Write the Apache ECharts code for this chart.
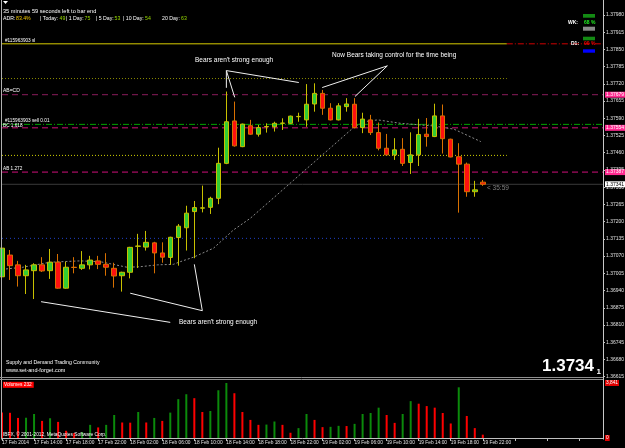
<!DOCTYPE html>
<html><head><meta charset="utf-8">
<script src="https://cdn.jsdelivr.net/npm/echarts@6/dist/echarts.min.js"></script>
<style>html,body{margin:0;padding:0;background:#000;}#c{width:625px;height:448px;}</style>
</head><body><div id="c"></div>
<script>
// ---- Data (H1 bars, 17 Feb 10:00 .. 19 Feb 22:00) ----
const tickLabels = ['17 Feb 2014','17 Feb 14:00','17 Feb 18:00','17 Feb 22:00','18 Feb 02:00','18 Feb 06:00','18 Feb 10:00','18 Feb 14:00','18 Feb 18:00','18 Feb 22:00','19 Feb 02:00','19 Feb 06:00','19 Feb 10:00','19 Feb 14:00','19 Feb 18:00','19 Feb 22:00'];
const opens  = [1.36992,1.37074,1.37037,1.36996,1.37015,1.37037,1.37015,1.37047,1.36949,1.37028,1.37024,1.37037,1.37052,1.37039,1.37024,1.36996,1.37009,1.37107,1.37104,1.37120,1.37082,1.37065,1.37140,1.37177,1.37238,1.37251,1.37254,1.37288,1.37420,1.37580,1.37483,1.37562,1.37530,1.37558,1.37558,1.37571,1.37571,1.37596,1.37584,1.37644,1.37684,1.37628,1.37584,1.37634,1.37643,1.37555,1.37584,1.37536,1.37477,1.37452,1.37473,1.37423,1.37452,1.37530,1.37521,1.37599,1.37511,1.37445,1.37417,1.37313,1.37349];
const highs  = [1.37112,1.37093,1.37052,1.37037,1.37043,1.37066,1.37097,1.37078,1.37049,1.37066,1.37089,1.37071,1.37071,1.37081,1.37045,1.37011,1.37105,1.37154,1.37165,1.37124,1.37122,1.37143,1.37191,1.37260,1.37278,1.37336,1.37294,1.37479,1.37691,1.37653,1.37570,1.37584,1.37565,1.37571,1.37577,1.37590,1.37600,1.37611,1.37719,1.37722,1.37697,1.37647,1.37647,1.37666,1.37666,1.37611,1.37603,1.37574,1.37531,1.37515,1.37515,1.37537,1.37588,1.37591,1.37645,1.37642,1.37513,1.37496,1.37423,1.37354,1.37357];
const lows   = [1.36954,1.36980,1.36955,1.36927,1.36908,1.37010,1.36984,1.36947,1.36947,1.37005,1.37018,1.37020,1.37021,1.36996,1.36951,1.36936,1.36986,1.37025,1.37091,1.37005,1.37045,1.37037,1.37034,1.37091,1.37062,1.37235,1.37229,1.37266,1.37417,1.37483,1.37481,1.37528,1.37521,1.37536,1.37540,1.37546,1.37569,1.37577,1.37558,1.37615,1.37603,1.37582,1.37582,1.37615,1.37552,1.37534,1.37527,1.37469,1.37450,1.37433,1.37410,1.37380,1.37410,1.37483,1.37519,1.37457,1.37443,1.37234,1.37294,1.37294,1.37335];
const closes = [1.37100,1.37034,1.36996,1.37018,1.37037,1.37014,1.37047,1.36949,1.37028,1.37027,1.37037,1.37055,1.37039,1.37028,1.36995,1.37009,1.37103,1.37108,1.37122,1.37082,1.37066,1.37141,1.37183,1.37232,1.37253,1.37252,1.37288,1.37420,1.37577,1.37486,1.37568,1.37530,1.37555,1.37559,1.37571,1.37572,1.37598,1.37597,1.37643,1.37684,1.37628,1.37584,1.37637,1.37644,1.37555,1.37587,1.37536,1.37477,1.37452,1.37471,1.37420,1.37452,1.37529,1.37521,1.37599,1.37513,1.37444,1.37417,1.37313,1.37320,1.37341];
const volumes = [1773,1760,1401,1415,1677,1194,1380,1125,504,345,420,918,738,918,1608,1083,1070,1815,1083,1401,1194,1773,2712,3057,2781,1815,1884,3333,3841,3126,1815,1263,918,938,1152,918,366,690,1677,1263,759,780,849,835,987,1677,1746,2118,1608,1056,1677,2574,2394,2229,2118,1746,1014,3540,1539,690,232];
// gray dotted average line, read points [bar index, price]
const avgLine = [[0,1.37020],[2.6,1.37028],[6,1.37047],[9.75,1.37052],[12.25,1.37049],[15.6,1.37028],[17.25,1.37030],[19.4,1.37037],[21.4,1.37039],[22.25,1.37049],[23.9,1.37066],[26.4,1.37100],[28.9,1.37169],[31,1.37213],[43.9,1.37556],[45.1,1.37577],[46.9,1.37584],[49.75,1.37571],[53.9,1.37561],[56.4,1.37549],[59.75,1.37502]];
// horizontal levels
const slPrice = 1.37871, olivePrice = 1.37740, abcdPrice = 1.37679, sellPrice = 1.37567,
      bcPrice = 1.37554, yellowDotPrice = 1.37450, abPrice = 1.37387, blueDotPrice = 1.37137;
// hand-drawn trend lines [bar index, price] segments
const trendSegs = [
  [[28.0,1.37770],[37.04,1.37725]], [[28.0,1.37770],[29.04,1.37669]], [[28.0,1.37770],[28.0,1.37705]],
  [[48.09,1.37788],[39.96,1.37706]], [[48.09,1.37788],[44.04,1.37672]],
  [[25.0,1.36864],[24.0,1.37039]], [[25.0,1.36864],[16.0,1.36930]],
  [[4.875,1.36898],[21.0,1.36820]]
];
const base = 1.36615, step = 0.00065, topPrice = 1.38025;

// ---- build ----
const nSlots = 76;
const cats = Array.from({length:nSlots}, (_,i)=>String(i));
const FF = '"Liberation Sans", Arial, sans-serif';
const candleData = opens.map((o,i)=>[o, closes[i], lows[i], highs[i]]);
const volMax = Math.max(...volumes);
const volData = volumes.map((v,i)=>({value:v, itemStyle:{color: (i>0 && v>volumes[i-1]) ? '#0b8a0b' : '#ff0000'}}));
const lastClose = closes[closes.length-1];

function hLine(price, x0, x1, color, type, lbl) {
  const s = {type:'line', xAxisIndex:2, yAxisIndex:0, data:[[x0,price],[x1,price]], symbol:'none', silent:true, z:1,
    lineStyle:{color:color, width:1, type:type}};
  if (lbl) s.endLabel = Object.assign({show:true, formatter:()=>price.toFixed(5), fontSize:5, fontFamily:FF, distance:2, padding:[1,1,0,1]}, lbl);
  return s;
}
const trendData = [];
trendSegs.forEach((sg,k)=>{ if(k) trendData.push('-'); trendData.push(sg[0], sg[1]); });

function txt(x,y,text,fill,size,extra){ return {type:'text', silent:true, z:100, style:Object.assign({x:x,y:y,text:text,fill:fill,fontSize:size,fontFamily:FF,verticalAlign:'middle',align:'left'}, extra||{})}; }
function ln(x1,y1,x2,y2,c){ return {type:'line', silent:true, z:100, shape:{x1:x1,y1:y1,x2:x2,y2:y2}, style:{stroke:c,lineWidth:1}}; }
function rc(x,y,w,h,c){ return {type:'rect', silent:true, z:100, shape:{x:x,y:y,width:w,height:h}, style:{fill:c}}; }

const green = '#99dd00';
const graphics = [
  {type:'polygon', silent:true, shape:{points:[[3,1],[8,1],[5.5,4]]}, style:{fill:'#fff'}},
  txt(3,11,'35 minutes 59 seconds left to bar end','#fff',5.6),
  txt(3,19,'ADR:','#fff',5.2), txt(16,19,'83.4%','#f0c800',5.2),
  txt(40,19,'| Today:','#fff',5.2), txt(59.5,19,'49',green,5.2),
  txt(66,19,'| 1 Day:','#fff',5.2), txt(84.5,19,'75',green,5.2),
  txt(96,19,'| 5 Day:','#fff',5.2), txt(114.5,19,'53',green,5.2),
  txt(123,19,'| 10 Day:','#fff',5.2), txt(145,19,'54',green,5.2),
  txt(162,19,'20 Day:','#fff',5.2), txt(181,19,'63',green,5.2),
  txt(5,40.5,'#115963903 sl','#fff',4.7),
  txt(3,91,'AB=CD','#fff',5),
  txt(5,120.5,'#115963903 sell 0.01','#fff',4.7),
  txt(3,125.5,'BC 1.618','#fff',4.7),
  txt(3,168.5,'AB 1.272','#fff',4.7),
  txt(487,188,'< 35:59','#808080',6.5),
  txt(195,60,"Bears aren't strong enough",'#fff',6.5),
  txt(332,55,'Now Bears taking control for the time being','#fff',6.5),
  txt(179,322.5,"Bears aren't strong enough",'#fff',6.5),
  txt(6,362.5,'Supply and Demand Trading Community','#fff',5.2),
  txt(6,370.5,'www.set-and-forget.com','#fff',5.5),
  txt(542,366.5,lastClose.toFixed(5).slice(0,6),'#fff',17,{fontWeight:'bold'}),
  txt(596.5,372,lastClose.toFixed(5).slice(6),'#fff',8,{fontWeight:'bold'}),
  txt(3,384.8,'Volumes '+volumes[volumes.length-1],'#fff',4.8,{backgroundColor:'#ff0000',padding:[1,2,0,1]}),
  txt(3,435,'IBFX, \u00a9 2001-2012, MetaQuotes Software Corp.','#fff',4.8),
  rc(583,14,12,3.7,'#138a13'), txt(568,22.5,'WK:','#fff',5,{fontWeight:'bold'}), txt(584,22.5,'68 %','#22ee22',5,{fontWeight:'bold'}),
  rc(583,26.7,12,4,'#8a8a8a'),
  rc(583,36.7,12,3.6,'#138a13'), txt(571,44,'D1:','#fff',5,{fontWeight:'bold'}), txt(584,44,'00 %','#ee0000',5,{fontWeight:'bold'}),
  rc(583,49.3,12,3.4,'#0000ff'),
  ln(1.5,0,1.5,439.5,'#b0b0b0'),
  ln(603.5,0,603.5,439.5,'#c8c8c8'),
  ln(0,377.5,603,377.5,'#909090'),
  ln(0,379.5,603,379.5,'#909090')
];

const chart = echarts.init(document.getElementById('c'), null, {renderer:'canvas'});
chart.setOption({
  backgroundColor:'#000',
  animation:false,
  grid:[
    {left:2, top:3, width:601, height:373.7, outerBoundsMode:'none', containLabel:false},
    {left:2, top:383, width:601, height:55, outerBoundsMode:'none', containLabel:false}
  ],
  xAxis:[
    {type:'category', gridIndex:0, data:cats, boundaryGap:false, show:false},
    {type:'category', gridIndex:1, data:cats, boundaryGap:false,
      axisLine:{show:true, lineStyle:{color:'#c0c0c0'}},
      axisTick:{show:true, interval:3, length:3, lineStyle:{color:'#c0c0c0'}},
      axisLabel:{interval:3, formatter:(v,idx)=>tickLabels[idx/4]||'', color:'#e0e0e0', fontSize:4.8, fontFamily:FF, align:'left', margin:2},
      splitLine:{show:false}},
    {type:'value', gridIndex:0, min:0, max:nSlots-1, show:false}
  ],
  yAxis:[
    {type:'value', gridIndex:0, min:base, max:topPrice, show:false, scale:true},
    {type:'value', gridIndex:0, position:'right', min:0, max:+(topPrice-base).toFixed(5), interval:step,
      axisLine:{show:false}, axisTick:{show:true, length:2, lineStyle:{color:'#c0c0c0'}},
      axisLabel:{formatter:v=>(v+base).toFixed(5), color:'#e0e0e0', fontSize:5, fontFamily:FF, margin:3, showMaxLabel:false},
      splitLine:{show:false}},
    {type:'value', gridIndex:1, position:'right', min:0, max:volMax, interval:volMax,
      axisLine:{show:false}, axisTick:{show:false}, splitLine:{show:false},
      axisLabel:{color:'#fff', backgroundColor:'#e00000', fontSize:4.8, fontFamily:FF, margin:2, padding:[1,1,0,1]}}
  ],
  series:[
    hLine(slPrice, 0, 63, '#d8cc00', 'solid'),
    hLine(slPrice, 63, 75, '#d00000', [6,2,1,2]),
    hLine(olivePrice, 0, 63, '#8a8a00', [1,2]),
    hLine(abcdPrice, 0, 75, '#8a1c5c', [6,4], {backgroundColor:'#ff2a90', color:'#fff'}),
    hLine(sellPrice, 0, 75, '#00a000', [6,2,1,2]),
    hLine(bcPrice, 0, 75, '#d0107a', [6,4], {backgroundColor:'#ff2a90', color:'#fff'}),
    hLine(yellowDotPrice, 0, 63, '#d0d000', [1,2]),
    hLine(abPrice, 0, 75, '#d0107a', [6,4], {backgroundColor:'#ff2a90', color:'#fff'}),
    hLine(lastClose, 0, 75, '#3a3a3a', 'solid', {backgroundColor:'#fff', color:'#000'}),
    hLine(blueDotPrice, 0, 60, '#2040c8', [1,3]),
    {type:'line', xAxisIndex:2, yAxisIndex:0, data:avgLine, symbol:'none', silent:true, z:1, smooth:false,
      lineStyle:{color:'#8a8a8a', width:1, type:[2,2]}},
    {type:'candlestick', xAxisIndex:0, yAxisIndex:0, data:candleData, barWidth:5, z:5,
      itemStyle:{color:'#33cc33', color0:'#ff1010', borderColor:'#c8c000', borderColor0:'#d87000', borderWidth:1}},
    {type:'line', xAxisIndex:2, yAxisIndex:0, data:trendData, symbol:'none', silent:true, z:6, connectNulls:false,
      lineStyle:{color:'#f0f0f0', width:1}},
    {type:'bar', xAxisIndex:1, yAxisIndex:2, data:volData, barWidth:2, z:3}
  ],
  graphic: graphics
});
</script>
</body></html>
